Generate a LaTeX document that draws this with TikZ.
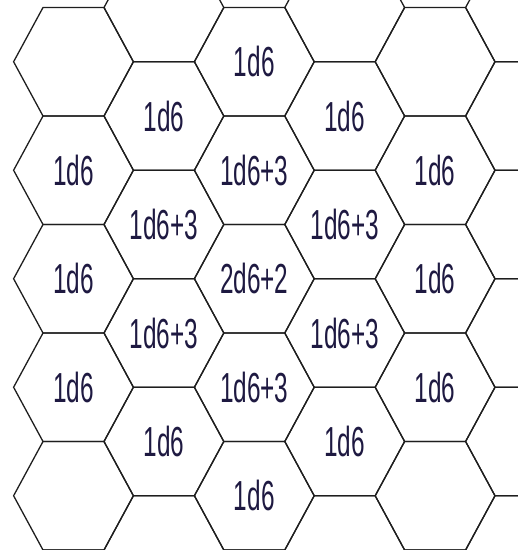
\documentclass[tikz,border=0pt]{standalone}
\usepackage{graphicx}
\usepackage{fontspec}
\setmainfont{Liberation Sans}
\definecolor{hexline}{RGB}{30,30,30}
\definecolor{labelink}{RGB}{30,25,65}
\newcommand\narrowtxt[1]{\scalebox{0.58}[1]{#1}}
\begin{document}
\begin{tikzpicture}[x=1pt,y=-1pt,
  hexedge/.style={draw=hexline,line width=1.3pt,line join=miter},
  hexlabel/.style={inner sep=0pt,text=labelink,font=\fontsize{42}{42}\selectfont}]
\useasboundingbox (0,0) rectangle (518,550);
\begin{scope}
\clip (0,0) rectangle (518,549.4);
\foreach \c in {0,...,5}{
  \pgfmathsetmacro{\xa}{43+90.4*\c}
  \pgfmathsetmacro{\yoff}{mod(\c,2)==0 ? 7.5 : -46.75}
  \foreach \j in {0,...,5}{
    \pgfmathsetmacro{\yt}{\yoff+108.5*\j}
    \draw[hexedge] (\xa,\yt) -- ++(61,0) -- ++(29.4,54.25) -- ++(-29.4,54.25) -- ++(-61,0) -- ++(-29.4,-54.25) -- cycle;
  }
}
\end{scope}
% column 0
\node[hexlabel] (a1) at (73.5,170.25) {\narrowtxt{1d6}};
\node[hexlabel] (a2) at (73.5,278.75) {\narrowtxt{1d6}};
\node[hexlabel] (a3) at (73.5,387.25) {\narrowtxt{1d6}};
% column 1
\node[hexlabel] (b1) at (163.9,116) {\narrowtxt{1d6}};
\node[hexlabel] (b2) at (163.9,224.5) {\narrowtxt{1d6+3}};
\node[hexlabel] (b3) at (163.9,333) {\narrowtxt{1d6+3}};
\node[hexlabel] (b4) at (163.9,441.5) {\narrowtxt{1d6}};
% column 2
\node[hexlabel] (c1) at (254.3,61.75) {\narrowtxt{1d6}};
\node[hexlabel] (c2) at (254.3,170.25) {\narrowtxt{1d6+3}};
\node[hexlabel] (c3) at (254.3,278.75) {\narrowtxt{2d6+2}};
\node[hexlabel] (c4) at (254.3,387.25) {\narrowtxt{1d6+3}};
\node[hexlabel] (c5) at (254.3,495.75) {\narrowtxt{1d6}};
% column 3
\node[hexlabel] (d1) at (344.7,116) {\narrowtxt{1d6}};
\node[hexlabel] (d2) at (344.7,224.5) {\narrowtxt{1d6+3}};
\node[hexlabel] (d3) at (344.7,333) {\narrowtxt{1d6+3}};
\node[hexlabel] (d4) at (344.7,441.5) {\narrowtxt{1d6}};
% column 4
\node[hexlabel] (e1) at (435.1,170.25) {\narrowtxt{1d6}};
\node[hexlabel] (e2) at (435.1,278.75) {\narrowtxt{1d6}};
\node[hexlabel] (e3) at (435.1,387.25) {\narrowtxt{1d6}};
\end{tikzpicture}
\end{document}
